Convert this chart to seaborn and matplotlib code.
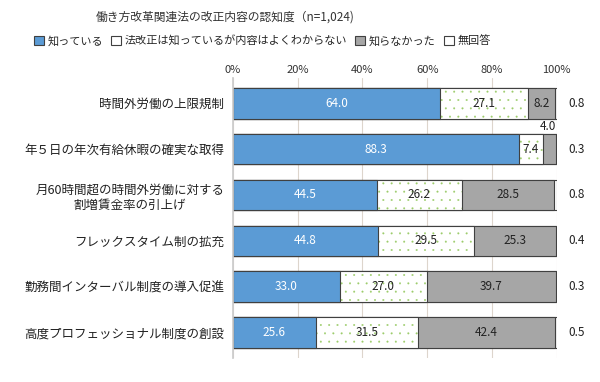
import seaborn as sns
import matplotlib.pyplot as plt
import matplotlib.patches as mpatches
import pandas as pd
import numpy as np

categories = [
    "時間外労働の上限規制",
    "年５日の年次有給休暇の確実な取得",
    "月60時間超の時間外労働に対する\n割増賃金率の引上げ",
    "フレックスタイム制の拡充",
    "勤務間インターバル制度の導入促進",
    "高度プロフェッショナル制度の創設",
]
knows = [64.0, 88.3, 44.5, 44.8, 33.0, 25.6]
vague = [27.1, 7.4, 26.2, 29.5, 27.0, 31.5]
didnt_know = [8.2, 4.0, 28.5, 25.3, 39.7, 42.4]
no_answer = [0.8, 0.3, 0.8, 0.4, 0.3, 0.5]
series_names = ["知っている", "法改正は知っているが内容はよくわからない", "知らなかった", "無回答"]

sns.set_theme(style="white")
plt.rcParams['font.family'] = ['Noto Sans CJK JP', 'DejaVu Sans']
plt.rcParams['hatch.linewidth'] = 0.2

df = pd.DataFrame({"cat": categories, "k": knows, "v": vague, "d": didnt_know, "n": no_answer})
df["c1"] = df["k"]
df["c2"] = df["c1"] + df["v"]
df["c3"] = df["c2"] + df["d"]
df["c4"] = df["c3"] + df["n"]

fig = plt.figure(figsize=(6, 3.82), dpi=100)
ax = fig.add_axes([0.388, 0.063, 0.54, 0.733])

blue = "#5b9bd5"
gray = "#a6a6a6"
edge = "#404040"
dotc = "#9ccc6a"
w = 0.67

sns.barplot(data=df, x="c4", y="cat", color="white", edgecolor=edge, linewidth=0.8,
            width=w, saturation=1, ax=ax)
sns.barplot(data=df, x="c3", y="cat", color=gray, edgecolor=edge, linewidth=0.8,
            width=w, saturation=1, ax=ax)
sns.barplot(data=df, x="c2", y="cat", color="white", edgecolor=dotc, linewidth=0,
            width=w, saturation=1, hatch="..", ax=ax)
sns.barplot(data=df, x="c2", y="cat", fill=False, edgecolor=edge, linewidth=0.8,
            width=w, ax=ax)
sns.barplot(data=df, x="c1", y="cat", color=blue, edgecolor=edge, linewidth=0.8,
            width=w, saturation=1, ax=ax)

ax.set_xlim(0, 100)
ax.set_ylim(5.55, -0.55)
ax.set_xlabel("")
ax.set_ylabel("")
ax.xaxis.tick_top()
ax.set_xticks(np.arange(0, 101, 20))
ax.set_xticklabels([f"{t}%" for t in range(0, 101, 20)], fontsize=8, color="#333333")
ax.tick_params(axis="x", length=0, pad=2)
ax.tick_params(axis="y", length=0, labelsize=9, pad=6, colors="#222222")
for lab in ax.get_yticklabels():
    lab.set_multialignment("center")
ax.grid(axis="x", color="#ddd5cc", linewidth=0.8)
ax.set_axisbelow(True)
for s in ["top", "right", "bottom"]:
    ax.spines[s].set_visible(False)
ax.spines["left"].set_color("#cccccc")

for i in range(len(categories)):
    ax.text(df["k"][i] / 2, i, f"{knows[i]:.1f}", ha="center", va="center",
            color="white", fontsize=8.5)
    ax.text(df["c1"][i] + vague[i] / 2, i, f"{vague[i]:.1f}", ha="center", va="center",
            color="#222222", fontsize=8.5)
    if i == 1:
        ax.text(df["c3"][i], i - 0.5, f"{didnt_know[i]:.1f}", ha="right", va="center",
                color="#222222", fontsize=8.5)
    else:
        ax.text(df["c2"][i] + didnt_know[i] / 2, i, f"{didnt_know[i]:.1f}", ha="center",
                va="center", color="#222222", fontsize=8.5)
    ax.text(103.5, i, f"{no_answer[i]:.1f}", ha="left", va="center",
            color="#222222", fontsize=8.5, clip_on=False)

fig.text(0.375, 0.955, "働き方改革関連法の改正内容の認知度（n=1,024)", ha="center",
         va="center", fontsize=8.5, color="#333333")

handles = [
    mpatches.Patch(facecolor=blue, edgecolor=edge, linewidth=0.8),
    mpatches.Patch(facecolor="white", edgecolor=edge, linewidth=0.8),
    mpatches.Patch(facecolor=gray, edgecolor=edge, linewidth=0.8),
    mpatches.Patch(facecolor="white", edgecolor=edge, linewidth=0.8),
]
fig.legend(handles, series_names, loc="center", bbox_to_anchor=(0.437, 0.893), ncol=4,
           frameon=False, fontsize=8, handlelength=0.9, handleheight=0.9,
           handletextpad=0.35, columnspacing=0.7, borderaxespad=0)

fig.savefig("out.png", dpi=100)
